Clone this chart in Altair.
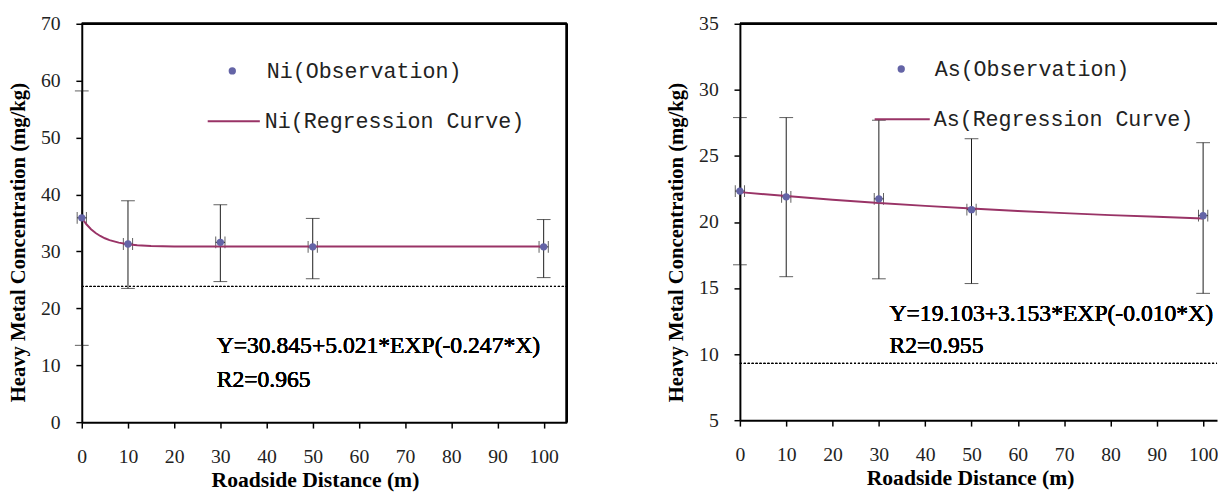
import altair as alt
import pandas as pd

# ---------------- data ----------------
dist = [0, 10, 30, 50, 100]

ni_obs = [35.9, 31.3, 31.6, 30.8, 30.8]
ni_hi = [58.2, 38.9, 38.2, 35.8, 35.6]
ni_lo = [13.5, 23.5, 24.7, 25.2, 25.4]
ni_bg = 23.85
ni_curve_x = [0, 1, 2, 3, 4, 5, 6, 8, 10, 12, 15, 20, 30, 40, 50, 60, 70, 80, 90, 100]
ni_curve_y = [35.87, 34.77, 33.91, 33.24, 32.71, 32.31, 31.99, 31.54, 31.27, 31.10,
              30.97, 30.88, 30.85, 30.85, 30.85, 30.85, 30.85, 30.85, 30.85, 30.85]

as_obs = [22.34, 21.9, 21.75, 20.93, 20.48]
as_hi = [27.9, 27.9, 27.7, 26.3, 26.0]
as_lo = [16.76, 15.86, 15.7, 15.34, 14.6]
as_bg = 9.3
as_curve_x = [0, 10, 20, 30, 40, 50, 60, 70, 80, 90, 100]
as_curve_y = [22.26, 21.96, 21.69, 21.44, 21.22, 21.02, 20.83, 20.67, 20.52, 20.39, 20.26]

x_err = 1.0
x_ticks = [0, 10, 20, 30, 40, 50, 60, 70, 80, 90, 100]
ni_ticks = [0, 10, 20, 30, 40, 50, 60, 70]
as_ticks = [5, 10, 15, 20, 25, 30, 35]

ni_eq = ["Y=30.845+5.021*EXP(-0.247*X)", "R2=0.965"]
as_eq = ["Y=19.103+3.153*EXP(-0.010*X)", "R2=0.955"]

X_TITLE = "Roadside Distance (m)"
Y_TITLE = "Heavy Metal Concentration (mg/kg)"

PT_COLOR = "#6464a6"
LINE_COLOR = "#993366"
ERR_COLOR = "#1a1a1a"
SERIF = "Liberation Serif"


def panel(metal, obs, hi, lo, bg, cx, cy, yticks, ydom, xdom, eq, eq_pos,
          width, height, leg, right_border, x_title_x, y_title_y):
    obs_lab = f"{metal}(Observation)"
    reg_lab = f"{metal}(Regression Curve)"
    df = pd.DataFrame({"x": dist, "y": obs, "hi": hi, "lo": lo,
                       "xl": [d - x_err for d in dist], "xh": [d + x_err for d in dist],
                       "lab": [obs_lab] * len(dist)})
    dc = pd.DataFrame({"x": cx, "y": cy, "lab": [reg_lab] * len(cx)})

    xs = alt.Scale(domain=xdom, nice=False, zero=False)
    ys = alt.Scale(domain=ydom, nice=False, zero=False)
    xax = alt.Axis(values=x_ticks, title=X_TITLE, titleX=x_title_x, labelFont=SERIF,
                   labelFontSize=20, labelPadding=19, titlePadding=3, titleFontSize=22)
    yax = alt.Axis(values=yticks, title=Y_TITLE, titleY=y_title_y, labelFont=SERIF,
                   labelFontSize=20, labelPadding=16, titlePadding=12, titleFontSize=21)

    base = alt.Chart(df)
    X = alt.X("x:Q", scale=xs, axis=xax)
    Y = alt.Y("y:Q", scale=ys, axis=yax)

    bgline = alt.Chart(df).mark_rule(color="black", strokeDash=[2, 2], strokeWidth=1).encode(
        y=alt.YDatum(bg), x=alt.XDatum(xdom[0]), x2=alt.X2Datum(xdom[1]))

    vbar = base.mark_rule(color=ERR_COLOR, strokeWidth=1).encode(
        x=X, y=alt.Y("lo:Q", scale=ys, axis=yax), y2="hi:Q")
    cap_hi = base.mark_tick(color=ERR_COLOR, orient="horizontal", size=14, thickness=1).encode(
        x=X, y=alt.Y("hi:Q", scale=ys, axis=yax))
    cap_lo = base.mark_tick(color=ERR_COLOR, orient="horizontal", size=14, thickness=1).encode(
        x=X, y=alt.Y("lo:Q", scale=ys, axis=yax))
    hbar = base.mark_rule(color=ERR_COLOR, strokeWidth=1).encode(
        x=alt.X("xl:Q", scale=xs, axis=xax), x2="xh:Q", y=Y)
    hcap_l = base.mark_tick(color=ERR_COLOR, orient="vertical", size=12, thickness=1).encode(
        x=alt.X("xl:Q", scale=xs, axis=xax), y=Y)
    hcap_r = base.mark_tick(color=ERR_COLOR, orient="vertical", size=12, thickness=1).encode(
        x=alt.X("xh:Q", scale=xs, axis=xax), y=Y)

    line = alt.Chart(dc).mark_line(strokeWidth=2).encode(
        x=X, y=Y,
        stroke=alt.Stroke("lab:N", scale=alt.Scale(domain=[reg_lab], range=[LINE_COLOR]),
                          legend=alt.Legend(orient="none", legendX=leg[2], legendY=leg[3],
                                            title=None, padding=0, symbolType="stroke",
                                            symbolSize=leg[5] ** 2, symbolStrokeWidth=2,
                                            labelOffset=leg[6], labelFont="Liberation Mono",
                                            labelFontSize=22, labelColor="#222",
                                            labelLimit=0)))
    pts = base.mark_circle(size=55, opacity=1).encode(
        x=X, y=Y,
        fill=alt.Fill("lab:N", scale=alt.Scale(domain=[obs_lab], range=[PT_COLOR]),
                      legend=alt.Legend(orient="none", legendX=leg[0], legendY=leg[1],
                                        title=None, padding=0, symbolType="circle",
                                        symbolSize=55, symbolStrokeWidth=0,
                                        labelOffset=leg[4], labelFont="Liberation Mono",
                                        labelFontSize=22, labelColor="#222",
                                        labelLimit=0)))

    t1 = alt.Chart(df).mark_text(align="left", baseline="middle", font=SERIF,
                                 fontSize=24, fontWeight="normal", color="black").encode(
        x=alt.XDatum(eq_pos[0]), y=alt.YDatum(eq_pos[1]), text=alt.value(eq[0]))
    t2 = alt.Chart(df).mark_text(align="left", baseline="middle", font=SERIF,
                                 fontSize=24, fontWeight="normal", color="black").encode(
        x=alt.XDatum(eq_pos[0]), y=alt.YDatum(eq_pos[2]), text=alt.value(eq[1]))

    top = alt.Chart(df).mark_rule(color="black", strokeWidth=2).encode(
        y=alt.YDatum(ydom[1]), x=alt.XDatum(xdom[0]), x2=alt.X2Datum(xdom[1]))
    layers = [top, bgline, vbar, cap_hi, cap_lo, hbar, hcap_l, hcap_r, line, pts, t1, t2]
    if right_border:
        rb = alt.Chart(df).mark_rule(color="black", strokeWidth=2).encode(
            x=alt.XDatum(xdom[1]), y=alt.YDatum(ydom[0]), y2=alt.Y2Datum(ydom[1]))
        layers.insert(0, rb)
    return alt.layer(*layers).resolve_scale(fill="independent", stroke="independent").properties(
        width=width, height=height)


left = panel("Ni", ni_obs, ni_hi, ni_lo, ni_bg, ni_curve_x, ni_curve_y, ni_ticks, [0, 70],
             [0, 105], ni_eq, (29.2, 13.3, 7.4), 493, 405,
             (142, 37, 127, 71.5, 24, 53, 4), True, 237, 222)
right = panel("As", as_obs, as_hi, as_lo, as_bg, as_curve_x, as_curve_y, as_ticks, [5, 35],
              [0, 103], as_eq, (32.3, 13.03, 10.58), 485, 403,
              (153, 35, 136, 68, 23, 56, 3), False, 234, 222)

chart = alt.hconcat(left, right, spacing=100).resolve_scale(
    x="independent", y="independent", fill="independent", stroke="independent"
).resolve_legend(fill="independent", stroke="independent").properties(
    padding={"left": 0, "top": 2, "right": 0, "bottom": 0}, background="white"
).configure_view(stroke=None).configure_axis(
    grid=False, domainColor="black", domainWidth=2, tickColor="black", tickWidth=1.5,
    tickSize=6, labelFont=SERIF, labelFontSize=20, labelColor="#222",
    titleFont=SERIF, titleFontWeight="bold",
    titleColor="black", labelFlush=False, labelOverlap=False
)

chart.save("out.html", embed_options={"renderer": "svg", "actions": False})
